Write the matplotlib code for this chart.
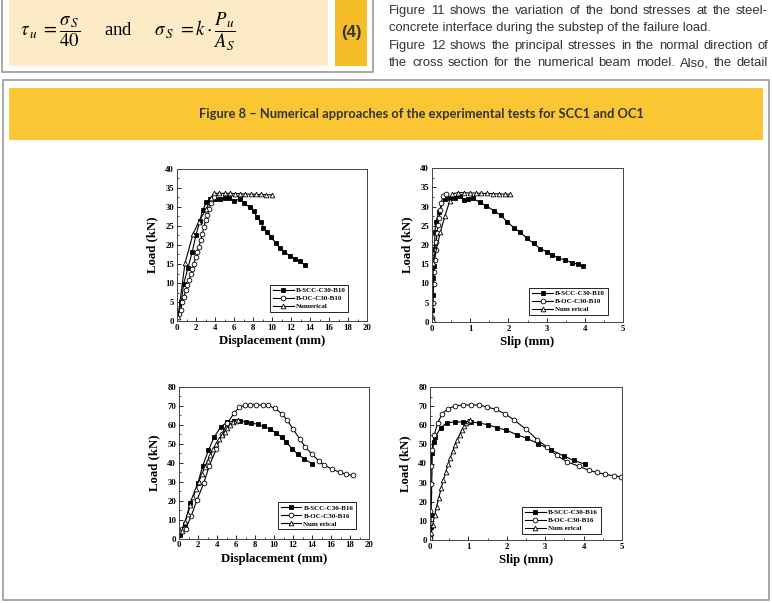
import matplotlib.pyplot as plt
from matplotlib.patches import Rectangle
from matplotlib.ticker import MultipleLocator

W, H = 772, 603

# ---- data: B10 bars ----
scc_b10_disp_x = [0.14, 0.46, 0.7, 1.16, 1.6, 2.0, 2.4, 2.7, 3.1, 3.5, 4.0, 4.5, 5.05, 5.5, 6.0, 6.6,
                  7.1, 7.65, 8.1, 8.4, 8.8, 9.1, 9.5, 9.9, 10.4, 10.8, 11.3, 11.9, 12.4, 12.9, 13.5]
scc_b10_disp_y = [1.8, 5.0, 9.8, 14.0, 18.2, 22.6, 26.3, 29.2, 31.2, 32.2, 32.2, 32.1, 32.3, 32.4, 31.7, 32.0,
                  31.0, 29.9, 28.9, 27.4, 26.1, 24.6, 23.3, 22.0, 20.6, 19.3, 18.2, 17.1, 16.4, 15.7, 14.7]
oc_b10_disp_x = [0.2, 0.4, 0.56, 0.74, 0.9, 1.1, 1.26, 1.44, 1.6, 1.8, 1.96, 2.14, 2.3, 2.5, 2.67, 2.84,
                 3.0, 3.2, 3.37, 3.54, 3.7, 3.86]
oc_b10_disp_y = [1.8, 3.0, 5.0, 6.3, 8.1, 9.4, 10.7, 12.3, 13.7, 15.1, 16.9, 18.2, 19.5, 21.3, 23.0, 24.8,
                 26.5, 28.0, 29.5, 31.0, 32.0, 32.7]
num_b10_disp_x = [0.1, 0.84, 1.7, 2.3, 3.1, 3.6, 3.9, 4.45, 5.0, 5.55, 6.1, 6.65, 7.2, 7.75, 8.3, 8.85, 9.4, 9.95]
num_b10_disp_y = [1.0, 15.2, 23.0, 26.1, 29.6, 32.3, 33.6, 33.6, 33.6, 33.6, 33.5, 33.5, 33.4, 33.4, 33.3, 33.3, 33.2, 33.2]

scc_b10_slip_x = [0.0, 0.01, 0.02, 0.03, 0.04, 0.06, 0.08, 0.1, 0.18, 0.33, 0.46, 0.59, 0.72, 0.83, 0.94, 1.07,
                  1.25, 1.42, 1.62, 1.8, 1.96, 2.14, 2.31, 2.49, 2.66, 2.84, 3.0, 3.15, 3.3, 3.47, 3.67, 3.82, 3.95]
scc_b10_slip_y = [0.5, 3.0, 7.0, 11.5, 14.5, 19.0, 23.5, 26.0, 28.5, 31.9, 32.3, 32.3, 32.6, 31.7, 31.9, 32.1,
                  31.1, 30.2, 28.9, 27.7, 26.1, 24.5, 23.3, 21.7, 20.4, 19.0, 18.3, 17.5, 16.7, 16.1, 15.4, 15.0, 14.5]
oc_b10_slip_x = [0.0, 0.02, 0.04, 0.06, 0.07, 0.1, 0.11, 0.13, 0.16, 0.18, 0.22, 0.24, 0.29, 0.36]
oc_b10_slip_y = [1.0, 5.0, 10.0, 13.0, 16.0, 18.7, 20.9, 23.0, 25.2, 27.0, 29.1, 30.9, 32.6, 33.2]
num_b10_slip_x = [0.02, 0.03, 0.22, 0.34, 0.46, 0.53, 0.68, 0.83, 0.99, 1.14, 1.29, 1.44, 1.6, 1.75, 1.9, 2.03]
num_b10_slip_y = [0.5, 15.2, 23.4, 27.6, 31.3, 33.3, 33.6, 33.6, 33.5, 33.5, 33.4, 33.4, 33.3, 33.3, 33.2, 33.2]

# ---- data: B16 bars ----
scc_b16_disp_x = [0.14, 0.6, 1.2, 2.0, 2.5, 3.1, 3.7, 4.4, 5.1, 5.8, 6.4, 7.0, 7.6, 8.3, 8.9, 9.6,
                  10.2, 10.8, 11.3, 11.9, 12.5, 13.2, 14.0]
scc_b16_disp_y = [1.8, 7.6, 19.0, 29.5, 38.5, 46.5, 53.5, 59.0, 61.5, 62.0, 62.0, 61.7, 61.0, 60.3, 59.2, 57.7,
                  55.8, 53.5, 50.8, 47.5, 44.5, 42.0, 39.5]
oc_b16_disp_x = [0.28, 0.7, 1.3, 1.9, 2.6, 3.2, 3.9, 4.5, 5.1, 5.8, 6.3, 6.9, 7.5, 8.1, 8.8, 9.4, 10.1,
                 10.8, 11.4, 12.0, 12.7, 13.3, 14.0, 14.7, 15.3, 16.1, 16.9, 17.6, 18.3]
oc_b16_disp_y = [5.1, 5.1, 12.1, 20.4, 29.2, 38.5, 47.1, 55.0, 61.0, 66.1, 69.2, 70.3, 70.5, 70.6, 70.5, 70.3, 68.7,
                 66.0, 62.4, 57.8, 52.7, 48.2, 44.6, 41.0, 38.7, 36.6, 35.0, 33.9, 33.3]
num_b16_disp_x = [0.3, 0.6, 0.9, 1.2, 1.5, 1.8, 2.1, 2.4, 2.7, 3.0, 3.3, 3.6, 3.9, 4.2, 4.5, 4.8, 5.1,
                  5.4, 5.7, 6.0, 6.2]
num_b16_disp_y = [4.0, 8.5, 13.0, 17.5, 22.0, 26.0, 30.0, 34.0, 37.5, 41.0, 44.0, 47.0, 50.0, 52.5, 54.5, 56.5,
                  58.5, 60.0, 61.3, 62.3, 62.8]

scc_b16_slip_x = [0.01, 0.02, 0.03, 0.06, 0.1, 0.14, 0.28, 0.45, 0.65, 0.85, 1.06, 1.27, 1.5, 1.74, 1.99,
                  2.26, 2.52, 2.81, 3.16, 3.48, 3.74, 4.03]
scc_b16_slip_y = [2.0, 6.6, 13.0, 45.6, 51.3, 53.9, 58.8, 61.4, 61.7, 61.7, 61.7, 61.2, 60.3, 58.8, 57.4,
                  55.1, 53.2, 50.4, 47.0, 44.0, 41.6, 39.7]
oc_b16_slip_x = [0.0, 0.01, 0.02, 0.03, 0.05, 0.11, 0.2, 0.32, 0.48, 0.65, 0.85, 1.06, 1.27, 1.48, 1.71,
                 1.96, 2.2, 2.5, 2.79, 3.04, 3.3, 3.57, 3.87, 4.13, 4.35, 4.57, 4.78, 4.98]
oc_b16_slip_y = [1.0, 15.0, 29.5, 38.8, 47.0, 55.1, 61.2, 66.1, 68.7, 70.1, 70.6, 70.6, 70.6, 69.6, 68.3,
                 65.9, 62.6, 57.9, 52.5, 48.7, 44.2, 40.9, 38.6, 36.5, 35.3, 34.3, 33.6, 33.0]
num_b16_slip_x = [0.03, 0.07, 0.12, 0.17, 0.23, 0.29, 0.35, 0.41, 0.47, 0.53, 0.59, 0.65, 0.71, 0.77,
                  0.83, 0.89, 0.95, 1.0, 1.05]
num_b16_slip_y = [3.5, 7.8, 13.0, 17.4, 22.1, 27.0, 31.5, 35.5, 39.5, 43.0, 46.5, 49.5, 52.5, 55.0,
                  57.5, 59.5, 61.0, 62.3, 63.0]

title = 'Figure 8 – Numerical approaches of the experimental tests for SCC1 and OC1'
para_lines = ['Figure 11 shows the variation of the bond stresses at the steel-',
              'concrete interface during the substep of the failure load.',
              'Figure 12 shows the principal stresses in the normal direction of',
              'the cross section for the numerical beam model. Also, the detail']
para_justify = [True, False, True, True]

plt.rcParams['mathtext.fontset'] = 'stix'

fig = plt.figure(figsize=(W / 100, H / 100), dpi=100)
renderer = fig.canvas.get_renderer()


def box(x0, y0, x1, y1, **kw):
    # pixel coords, origin top-left; drawn under the axes
    r = Rectangle((x0 / W, 1 - y1 / H), (x1 - x0) / W, (y1 - y0) / H,
                  transform=fig.transFigure, zorder=-5, **kw)
    fig.add_artist(r)


# equation box
box(2, -5, 373, 72, facecolor='white', edgecolor='#9a9a9a', linewidth=1.2)
box(9, -5, 328, 66, facecolor='#fdebc8', edgecolor='none')
box(335, -5, 367, 66, facecolor='#f6bd2b', edgecolor='none')
fig.text(20 / W, 1 - 32 / H,
         r'$\tau_{\,u}\ =\dfrac{\sigma_{\,S}}{\mathit{40}}$' + '     and     ' +
         r'$\sigma_{\,S}\ = k\cdot\dfrac{P_u}{A_S}$',
         fontsize=13.5, family='Liberation Serif', va='center', ha='left')
fig.text(351 / W, 1 - 32 / H, '(4)', fontsize=12, fontweight='bold', family='Liberation Sans',
         ha='center', va='center', color='#333333')

# paragraph to the right, justified between x0 and x1
px0, px1 = 389, 768
pkw = dict(fontsize=9.4, family='Liberation Sans', color='#333333', va='center', ha='left')
for i, (line, just) in enumerate(zip(para_lines, para_justify)):
    y = 1 - (11 + i * 17.5) / H
    if not just:
        fig.text(px0 / W, y, line, **pkw)
        continue
    words = line.split(' ')
    widths = []
    for w in words:
        t = fig.text(0, 0, w, **pkw)
        widths.append(t.get_window_extent(renderer).width)
        t.remove()
    gap = (px1 - px0 - sum(widths)) / (len(words) - 1)
    x = px0
    for w, wd in zip(words, widths):
        fig.text(x / W, y, w, **pkw)
        x += wd + gap

# figure frame + banner
box(3, 80, 769, 600, facecolor='white', edgecolor='#9a9a9a', linewidth=1.2)
box(9, 88, 763, 140, facecolor='#fbc634', edgecolor='none')
fig.text(421 / W, 1 - 114 / H, title, fontsize=9.3, fontweight='bold', family='Lato',
         ha='center', va='center', color='#333333')

serif = 'Liberation Serif'


def panel(rect, series, xmax, ymax, xmaj, ymaj, xlabel, legend_pos, labels):
    ax = fig.add_axes(rect)
    markers = ['s', 'o', '^']
    faces = ['black', 'white', 'white']
    for (x, y), m, fc, lab in zip(series, markers, faces, labels):
        ax.plot(x, y, color='black', linewidth=0.8, marker=m, markersize=3.4,
                markerfacecolor=fc, markeredgecolor='black', markeredgewidth=0.6, label=lab)
    ax.set_xlim(0, xmax)
    ax.set_ylim(0, ymax)
    ax.xaxis.set_major_locator(MultipleLocator(xmaj))
    ax.xaxis.set_minor_locator(MultipleLocator(xmaj / 2))
    ax.yaxis.set_major_locator(MultipleLocator(ymaj))
    ax.yaxis.set_minor_locator(MultipleLocator(ymaj / 2))
    ax.tick_params(which='both', direction='in', labelsize=6.3, pad=2)
    ax.tick_params(which='major', length=3, width=0.6)
    ax.tick_params(which='minor', length=1.5, width=0.5)
    for t in ax.get_xticklabels() + ax.get_yticklabels():
        t.set_family(serif)
        t.set_fontweight('bold')
    for s in ax.spines.values():
        s.set_linewidth(0.7)
        s.set_color('#444444')
    ax.set_xlabel(xlabel, fontsize=9.2, family=serif, fontweight='bold', labelpad=2.5)
    ax.set_ylabel('Load (kN)', fontsize=9.2, family=serif, fontweight='bold', labelpad=5)
    leg = ax.legend(loc='lower left', bbox_to_anchor=legend_pos, fancybox=False, framealpha=1,
                    edgecolor='black', prop={'family': serif, 'weight': 'bold', 'size': 5},
                    handlelength=3.0, borderpad=0.4, labelspacing=0.3, handletextpad=0.3,
                    borderaxespad=0)
    leg.get_frame().set_linewidth(0.6)
    return ax


panel([177 / W, 1 - 321 / H, 190 / W, 152 / H],
      [(scc_b10_disp_x, scc_b10_disp_y), (oc_b10_disp_x, oc_b10_disp_y), (num_b10_disp_x, num_b10_disp_y)],
      20, 40, 2, 5, 'Displacement (mm)', (0.49, 0.06),
      ['B-SCC-C30-B10', 'B-OC-C30-B10', 'Numerical'])
panel([432 / W, 1 - 322 / H, 191 / W, 154 / H],
      [(scc_b10_slip_x, scc_b10_slip_y), (oc_b10_slip_x, oc_b10_slip_y), (num_b10_slip_x, num_b10_slip_y)],
      5, 40, 1, 5, 'Slip (mm)', (0.51, 0.045),
      ['B-SCC-C30-B10', 'B-OC-C30-B10', 'Num erical'])
panel([179 / W, 1 - 538.5 / H, 190 / W, 151.5 / H],
      [(scc_b16_disp_x, scc_b16_disp_y), (oc_b16_disp_x, oc_b16_disp_y), (num_b16_disp_x, num_b16_disp_y)],
      20, 80, 2, 10, 'Displacement (mm)', (0.52, 0.06),
      ['B-SCC-C30-B16', 'B-OC-C30-B16', 'Num erical'])
panel([430 / W, 1 - 540 / H, 192 / W, 153 / H],
      [(scc_b16_slip_x, scc_b16_slip_y), (oc_b16_slip_x, oc_b16_slip_y), (num_b16_slip_x, num_b16_slip_y)],
      5, 80, 1, 10, 'Slip (mm)', (0.48, 0.04),
      ['B-SCC-C30-B16', 'B-OC-C30-B16', 'Num erical'])

fig.savefig('out.png', dpi=100)
